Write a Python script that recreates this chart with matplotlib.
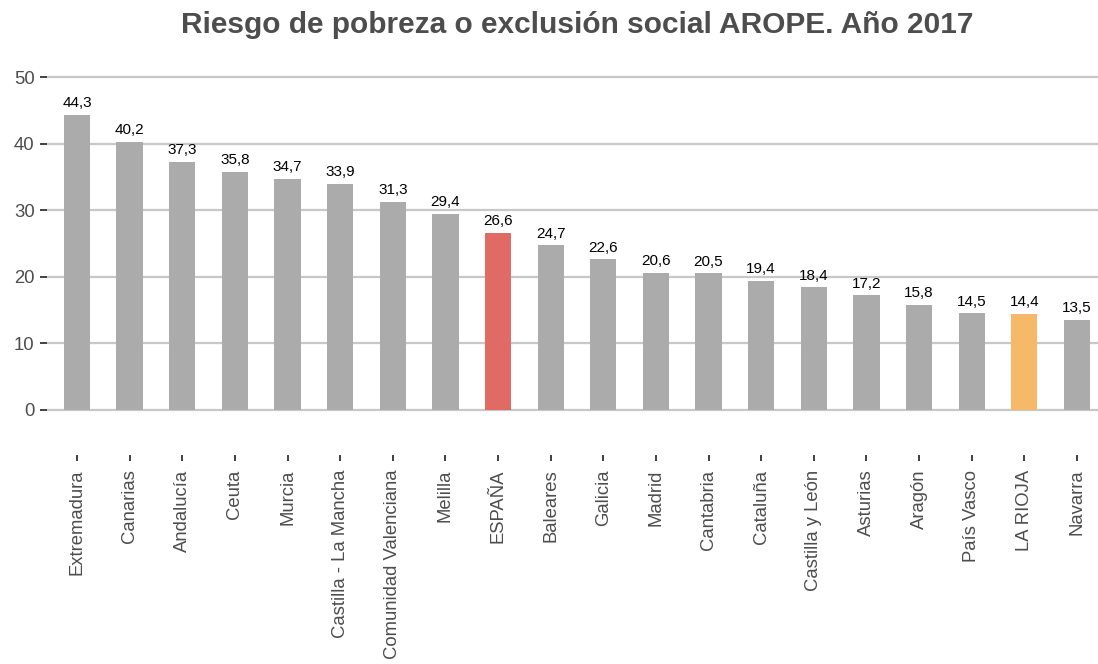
import matplotlib
matplotlib.use("Agg")
import matplotlib.pyplot as plt

categories = ["Extremadura", "Canarias", "Andalucía", "Ceuta", "Murcia",
              "Castilla - La Mancha", "Comunidad Valenciana", "Melilla", "ESPAÑA",
              "Baleares", "Galicia", "Madrid", "Cantabria", "Cataluña",
              "Castilla y León", "Asturias", "Aragón", "País Vasco", "LA RIOJA", "Navarra"]
values = [44.3, 40.2, 37.3, 35.8, 34.7, 33.9, 31.3, 29.4, 26.6, 24.7,
          22.6, 20.6, 20.5, 19.4, 18.4, 17.2, 15.8, 14.5, 14.4, 13.5]
highlight = {"ESPAÑA": "#E06A64", "LA RIOJA": "#F6B869"}
base_color = "#ABABAB"
yticks = [0, 10, 20, 30, 40, 50]
title = "Riesgo de pobreza o exclusión social AROPE. Año 2017"

plt.rcParams['font.family'] = ['Liberation Sans', 'DejaVu Sans']

W, H = 1098, 664
fig = plt.figure(figsize=(W / 100, H / 100), dpi=100)
ax = fig.add_axes([47 / W, 1 - 413.3 / H, 1 - 47 / W, (413.3 - 73.7) / H])
for s in ax.spines.values():
    s.set_visible(False)
ax.spines['bottom'].set_position(('outward', 30.2))

x = list(range(len(categories)))
colors = [highlight.get(c, base_color) for c in categories]
ax.bar(x, values, width=0.5, color=colors, zorder=2)

for xi, v in zip(x, values):
    ax.annotate(f"{v:.1f}".replace(".", ","), (xi, v), xytext=(0, 3.5),
                textcoords="offset points", ha="center", va="bottom",
                fontsize=11, color="black", zorder=3)

ax.set_xlim(-0.57, 19.4)
ax.set_ylim(-0.5, 50.5)
ax.set_yticks(yticks)
ax.set_yticklabels([str(t) for t in yticks])
ax.set_xticks(x)
ax.set_xticklabels(categories, rotation=90)

ax.grid(axis="y", color="#C8C8C8", linewidth=1.6, zorder=0)
ax.set_axisbelow(True)

ax.tick_params(axis="y", length=5, width=1.3, color="#333333", labelcolor="#4D4D4D",
               labelsize=13.3, pad=4)
ax.tick_params(axis="x", length=4.3, width=1.3, color="#333333", labelcolor="#4D4D4D",
               labelsize=13.3, pad=6, labelrotation=90)

fig.text(577 / W, 1 - 33 / H, title, ha="center", va="baseline",
         fontsize=21.5, fontweight="bold", color="#4D4D4D")

fig.savefig("out.png", dpi=100, facecolor="white")
